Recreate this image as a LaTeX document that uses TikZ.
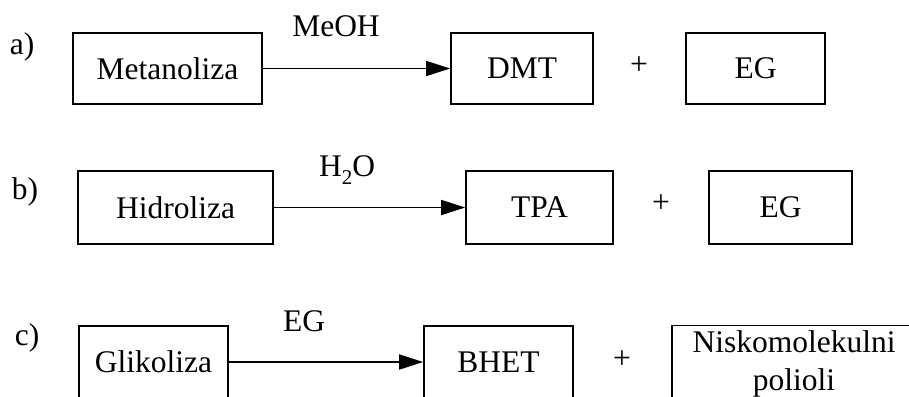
\documentclass[tikz,border=0pt]{standalone}
\usepackage{fontspec}
\setmainfont{Liberation Serif}
\usetikzlibrary{arrows.meta}
\tikzset{
  box/.style={draw=black, line width=1.6pt, rectangle, inner sep=0pt, minimum height=71pt},
  txt/.style={inner sep=0pt, anchor=base},
  plus/.style={inner sep=0pt},
  arr/.style={draw=black, line width=1.6pt, -{Triangle[length=24pt,width=15pt]}}
}
\begin{document}
\begin{tikzpicture}[x=1pt,y=-1pt,font=\fontsize{31.5}{38}\selectfont]
\useasboundingbox (0,0) rectangle (909,396);
\clip (0,0) rectangle (909,396);
\fill[white] (0,0) rectangle (909,396);
% row a
\node[txt] (la) at (22,55) {a)};
\node[box, minimum width=189pt] (meta) at (167.5,68.5) {Metanoliza};
\node[box, minimum width=142pt] (dmt) at (522,68.5) {DMT};
\node[plus] (pa) at (639,66) {+};
\node[box, minimum width=139pt] (ega) at (755.5,68.5) {EG};
\node[txt] (meoh) at (336,37) {MeOH};
\draw[arr] (meta) -- (dmt);
% row b
\node[txt] (lb) at (25,199) {b)};
\node[box, minimum width=195pt, minimum height=73pt] (hid) at (175.5,207.5) {Hidroliza};
\node[box, minimum width=147pt, minimum height=73pt] (tpa) at (539.5,207.5) {TPA};
\node[plus] (pb) at (661,204) {+};
\node[box, minimum width=143pt, minimum height=73pt] (egb) at (780.5,207.5) {EG};
\node[txt] (hoh) at (347,176) {H\raisebox{-0.6ex}{\fontsize{21}{24}\selectfont 2}O};
\draw[arr] (hid) -- (tpa);
% row c
\node[txt] (lc) at (27,345) {c)};
\node[box, minimum width=149pt, minimum height=72pt] (gli) at (153.5,362) {Glikoliza};
\node[box, minimum width=149pt, minimum height=72pt] (bhet) at (498.5,362) {BHET};
\node[plus] (pc) at (622,360) {+};
\node[box, minimum width=244pt, minimum height=72pt] (nis) at (794,361.5) {};
\node[txt] (nis1) at (794,352) {Niskomolekulni};
\node[txt] (nis2) at (794,390) {polioli};
\node[txt] (egl) at (304,331) {EG};
\draw[arr] (gli) -- (bhet);
\end{tikzpicture}
\end{document}
